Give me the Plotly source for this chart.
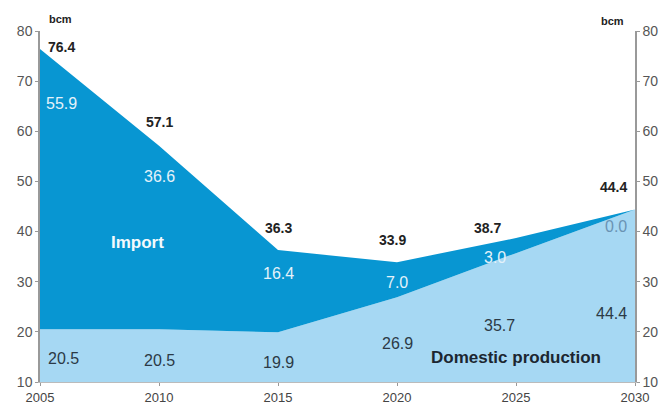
import plotly.graph_objects as go

years = [2005, 2010, 2015, 2020, 2025, 2030]
domestic = [20.5, 20.5, 19.9, 26.9, 35.7, 44.4]
imports = [55.9, 36.6, 16.4, 7.0, 3.0, 0.0]
totals = [76.4, 57.1, 36.3, 33.9, 38.7, 44.4]

# label placements (x, y) in data units for each value label
total_pos = [(2005.9, 76.8), (2010.0, 61.8), (2015.0, 40.7), (2019.8, 38.3), (2023.8, 40.7), (2029.1, 48.9)]
import_pos = [(2005.9, 65.6), (2010.0, 50.9), (2015.0, 31.7), (2020.0, 29.9), (2024.1, 34.9), (2029.2, 41.1)]
domestic_pos = [(2006.0, 14.7), (2010.0, 14.3), (2015.0, 13.9), (2020.0, 17.7), (2024.3, 21.3), (2029.0, 23.7)]

C_IMPORT = "rgb(8,150,210)"
C_DOM = "rgb(166,216,243)"
FONT = "Liberation Sans, Arial, sans-serif"

fig = go.Figure()
fig.add_trace(go.Scatter(x=years, y=domestic, stackgroup="a", mode="none",
                         fillcolor=C_DOM, name="Domestic production", hoverinfo="skip"))
fig.add_trace(go.Scatter(x=years, y=imports, stackgroup="a", mode="none",
                         fillcolor=C_IMPORT, name="Import", hoverinfo="skip"))
# invisible trace to activate the right-hand axis
fig.add_trace(go.Scatter(x=years, y=totals, yaxis="y2", mode="none", showlegend=False, hoverinfo="skip"))

ann = []
for (x, y), v in zip(total_pos, totals):
    ann.append(dict(x=x, y=y, text=f"<b>{v:.1f}</b>", showarrow=False,
                    font=dict(size=14, color="#222", family=FONT)))
for i, ((x, y), v) in enumerate(zip(import_pos, imports)):
    col = "#e4f2fa" if i < 5 else "#6a93b3"
    ann.append(dict(x=x, y=y, text=f"{v:.1f}", showarrow=False,
                    font=dict(size=16, color=col, family=FONT)))
for (x, y), v in zip(domestic_pos, domestic):
    ann.append(dict(x=x, y=y, text=f"{v:.1f}", showarrow=False,
                    font=dict(size=16, color="#2c3a46", family=FONT)))
ann.append(dict(x=2009.1, y=37.9, text="<b>Import</b>", showarrow=False,
                font=dict(size=17, color="#f4fafd", family=FONT)))
ann.append(dict(x=2025.0, y=14.9, text="<b>Domestic production</b>", showarrow=False,
                font=dict(size=17, color="#1c2630", family=FONT)))
ann.append(dict(xref="paper", yref="paper", x=0.012, y=1.0, yanchor="bottom", yshift=4,
                text="<b>bcm</b>", showarrow=False, font=dict(size=11, color="#222", family=FONT)))
ann.append(dict(xref="paper", yref="paper", x=0.985, y=1.0, yanchor="bottom", yshift=2,
                text="<b>bcm</b>", showarrow=False, font=dict(size=11, color="#222", family=FONT)))

axis_common = dict(range=[10, 80], dtick=10, showgrid=False, zeroline=False,
                   showline=True, linecolor="#999", linewidth=1.5,
                   ticks="outside", ticklen=3, tickcolor="#999", automargin=False,
                   tickfont=dict(size=14, color="#555", family=FONT))

fig.update_layout(
    width=663, height=407,
    margin=dict(l=40, r=28, t=31, b=25),
    paper_bgcolor="white", plot_bgcolor="white",
    showlegend=False,
    xaxis=dict(range=[2005, 2030], tickvals=years, showgrid=False, zeroline=False,
               showline=True, linecolor="#bbb", ticks="outside", ticklen=3, tickcolor="#999",
               automargin=False, ticklabelstandoff=0,
               tickfont=dict(size=13, color="#444", family=FONT)),
    yaxis=dict(**axis_common),
    yaxis2=dict(**axis_common, overlaying="y", side="right"),
    annotations=ann,
)

fig.write_html("out.html")
